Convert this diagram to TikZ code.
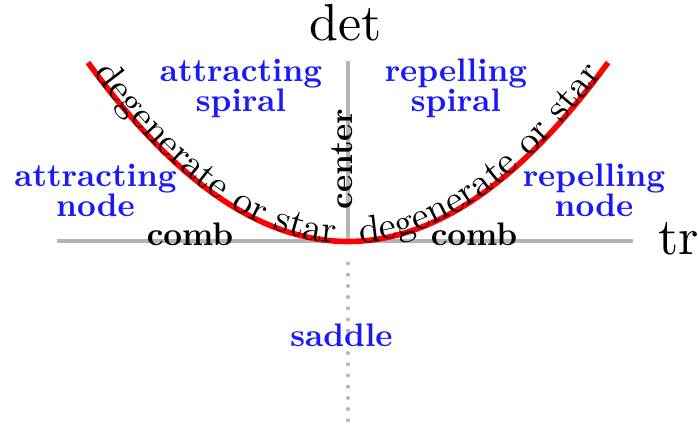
\documentclass[tikz,border=0pt]{standalone}
\usepackage{fontspec}
\newfontfamily\rmten{lmroman10-regular.otf}
\newfontfamily\bften{lmroman10-bold.otf}
\usetikzlibrary{decorations.text}
\definecolor{lblblue}{RGB}{25,25,250}
\definecolor{axisgray}{RGB}{180,180,180}
\tikzset{
  region/.style={text=lblblue, font=\bften\fontsize{16.3}{15}\selectfont, align=center, inner sep=0pt},
  blacklbl/.style={text=black, font=\bften\fontsize{16.3}{15}\selectfont, inner sep=0pt},
  axislbl/.style={font=\rmten\fontsize{26}{30}\selectfont, inner sep=0pt},
  axisline/.style={draw=axisgray, line width=2pt},
  curvetext/.style={decorate, decoration={text along path, text align=center, raise=-1pt,
     text={|\rmten\fontsize{19.2}{22}\selectfont|degenerate or star}}}
}
\begin{document}
\begin{tikzpicture}[x=0.5pt,y=0.5pt]
\useasboundingbox (-348,-186.5) rectangle (350,241.5);
\coordinate (O) at (0,0);
\coordinate (xl) at (-291,0);
\coordinate (xr) at (285,0);
\coordinate (yt) at (0,180.5);
\coordinate (yb) at (0,-181);
\coordinate (L) at (-260,179);
\coordinate (R) at (260,179);
\coordinate (CL1) at (-173.33,59.67);
\coordinate (CL2) at (-86.67,0);
\coordinate (CR1) at (86.67,0);
\coordinate (CR2) at (173.33,59.67);
% axes
\draw[axisline] (xl) -- (xr);
\draw[axisline] (O) -- (yt);
\draw[draw=axisgray, line width=2pt, line cap=round, dash pattern=on 0pt off 5.6pt] ([yshift=-11]O) -- (yb);
% parabola
\draw[red, line width=2.8pt] (L) .. controls (CL1) and (CL2) .. (O) .. controls (CR1) and (CR2) .. (R);
\path[curvetext] (L) .. controls (CL1) and (CL2) .. (O);
\path[curvetext] (O) .. controls (CR1) and (CR2) .. (R);
% axis labels
\node[axislbl, anchor=base] (det) at (-2,200.5) {det};
\node[axislbl, anchor=base west] (tr) at (310,-13.5) {tr};
% regions
\node[region, anchor=base] (as) at (-107,129.5) {attracting\\spiral};
\node[region, anchor=base] (rs) at (108,129.5) {repelling\\spiral};
\node[region, anchor=base] (an) at (-252.5,24.5) {attracting\\node};
\node[region, anchor=base] (rn) at (246,24.5) {repelling\\node};
\node[region, anchor=base] (sad) at (-6.5,-105.5) {saddle};
\node[blacklbl, anchor=base] (cl) at (-158,-4.5) {comb};
\node[blacklbl, anchor=base] (cr) at (126,-4.5) {comb};
\node[blacklbl, anchor=base, rotate=90] (ctr) at (5,82.5) {center};
\end{tikzpicture}
\end{document}
